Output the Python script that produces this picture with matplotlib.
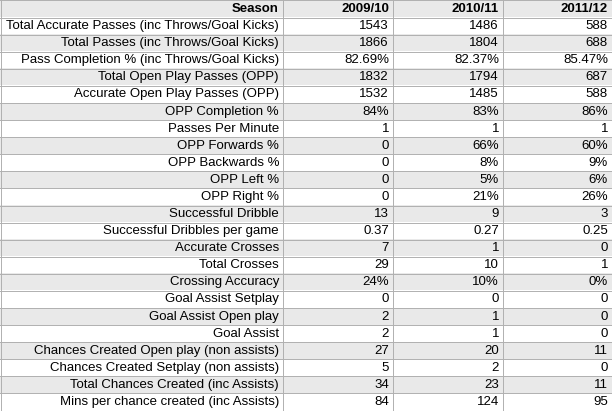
import matplotlib
matplotlib.use("Agg")
import matplotlib.pyplot as plt
from matplotlib.patches import Rectangle

seasons = ["2009/10", "2010/11", "2011/12"]
labels = ["Total Accurate Passes (inc Throws/Goal Kicks)", "Total Passes (inc Throws/Goal Kicks)",
          "Pass Completion % (inc Throws/Goal Kicks)", "Total Open Play Passes (OPP)",
          "Accurate Open Play Passes (OPP)", "OPP Completion %", "Passes Per Minute",
          "OPP Forwards %", "OPP Backwards %", "OPP Left %", "OPP Right %", "Successful Dribble",
          "Successful Dribbles per game", "Accurate Crosses", "Total Crosses", "Crossing Accuracy",
          "Goal Assist Setplay", "Goal Assist Open play", "Goal Assist",
          "Chances Created Open play (non assists)", "Chances Created Setplay (non assists)",
          "Total Chances Created (inc Assists)", "Mins per chance created (inc Assists)"]
v0910 = ["1543", "1866", "82.69%", "1832", "1532", "84%", "1", "0", "0", "0", "0", "13", "0.37",
         "7", "29", "24%", "0", "2", "2", "27", "5", "34", "84"]
v1011 = ["1486", "1804", "82.37%", "1794", "1485", "83%", "1", "66%", "8%", "5%", "21%", "9", "0.27",
         "1", "10", "10%", "0", "1", "1", "20", "2", "23", "124"]
v1112 = ["588", "688", "85.47%", "687", "588", "86%", "1", "60%", "9%", "6%", "26%", "3", "0.25",
         "0", "1", "0%", "0", "0", "0", "11", "0", "11", "95"]

W, H = 612, 411
fig = plt.figure(figsize=(W / 100, H / 100), dpi=100)
ax = fig.add_axes([0, 0, 1, 1])
ax.set_xlim(0, W); ax.set_ylim(H, 0); ax.axis("off")

col_edges = [0, 282, 392, 502, 611]
nrows = len(labels) + 1
rh = (H - 1) / nrows
font = dict(family="Liberation Sans", fontsize=9.5, va="center", ha="right")

rows = [["Season"] + seasons] + [[l, a, b, c] for l, a, b, c in zip(labels, v0910, v1011, v1112)]
for i, row in enumerate(rows):
    y0 = i * rh
    if i % 2 == 0:
        ax.add_patch(Rectangle((0, y0), W, rh, color="#e9e9e9", lw=0))
    for j, txt in enumerate(row):
        ax.text(col_edges[j + 1] - 3, y0 + rh / 2 + 0.5, txt,
                fontweight="bold" if i == 0 else "normal", **font)
for i in range(nrows + 1):
    ax.plot([0, W], [i * rh + 0.5] * 2, color="#b0b0b0", lw=0.7)
for x in col_edges:
    ax.plot([x + 0.5, x + 0.5], [0, H], color="#b0b0b0", lw=0.7)

fig.savefig("out.png", dpi=100)
